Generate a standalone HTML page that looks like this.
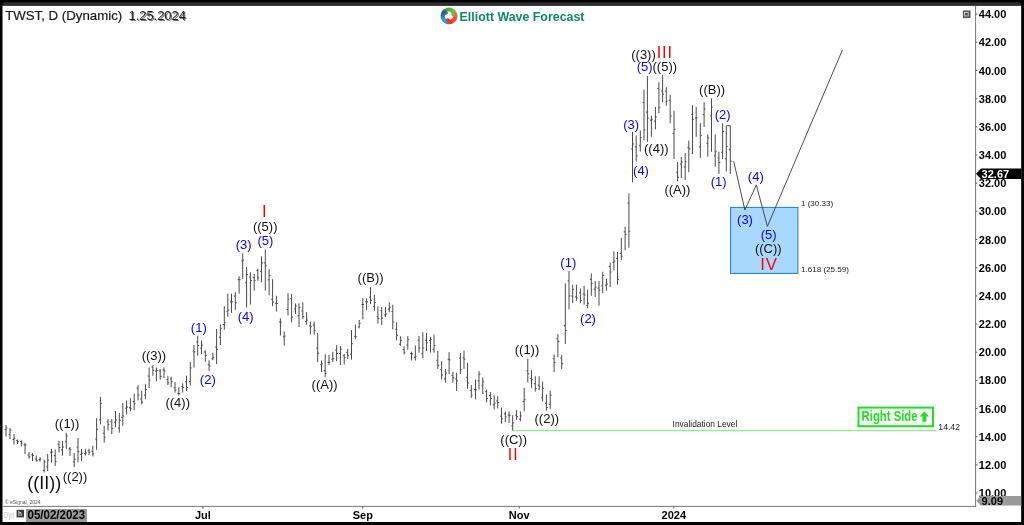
<!DOCTYPE html>
<html><head><meta charset="utf-8"><title>TWST Elliott Wave Forecast</title>
<style>
html,body{margin:0;padding:0;background:#fff;}
body{width:1024px;height:525px;overflow:hidden;}
svg{display:block;font-family:"Liberation Sans",Arial,sans-serif;}
.ax{font-weight:bold;font-size:11px;fill:#000;}
.k{font-size:13px;fill:#111;text-anchor:middle;}
.b{font-size:13px;fill:#0000ff;text-anchor:middle;}
.r{fill:#ff0000;text-anchor:middle;letter-spacing:0.9px;}
.s{font-size:8.1px;fill:#222;}
</style></head><body>
<svg width="1024" height="525" viewBox="0 0 1024 525">
<defs>
<linearGradient id="gG" gradientUnits="userSpaceOnUse" x1="-8" y1="-3" x2="6" y2="-1"><stop offset="0" stop-color="#2f9e48"/><stop offset="1" stop-color="#7ac143"/></linearGradient>
<linearGradient id="gR" gradientUnits="userSpaceOnUse" x1="-8" y1="-3" x2="6" y2="-1"><stop offset="0" stop-color="#f47a3a"/><stop offset="1" stop-color="#ee2a22"/></linearGradient>
<linearGradient id="gB" gradientUnits="userSpaceOnUse" x1="-8" y1="-3" x2="6" y2="-1"><stop offset="0" stop-color="#2b78c0"/><stop offset="0.45" stop-color="#2da5de"/><stop offset="1" stop-color="#27599f"/></linearGradient>
<filter id="bl" x="-10%" y="-30%" width="120%" height="160%"><feGaussianBlur stdDeviation="0.6"/></filter>
</defs>
<rect x="0" y="0" width="1024" height="525" fill="#000"/>
<rect x="2.3" y="2.3" width="1019.2" height="12" rx="2.6" ry="2.6" fill="#2d2d2d"/>
<rect x="2.3" y="5.9" width="1019.1" height="516.1" fill="#fff"/>
<rect x="0" y="5.9" width="2.3" height="520" fill="#000"/>
<rect x="1021.4" y="5.9" width="2.6" height="520" fill="#000"/>

<line x1="975.6" y1="5.9" x2="975.6" y2="506.9" stroke="#777" stroke-width="1"/>
<line x1="2.3" y1="506.4" x2="976.1" y2="506.4" stroke="#777" stroke-width="1"/>
<line x1="975.6" y1="493.0" x2="977.3" y2="493.0" stroke="#555" stroke-width="1"/>
<text class="ax" x="978.8" y="497.0">10.00</text>
<line x1="975.6" y1="464.9" x2="977.3" y2="464.9" stroke="#555" stroke-width="1"/>
<text class="ax" x="978.8" y="468.9">12.00</text>
<line x1="975.6" y1="436.7" x2="977.3" y2="436.7" stroke="#555" stroke-width="1"/>
<text class="ax" x="978.8" y="440.7">14.00</text>
<line x1="975.6" y1="408.5" x2="977.3" y2="408.5" stroke="#555" stroke-width="1"/>
<text class="ax" x="978.8" y="412.5">16.00</text>
<line x1="975.6" y1="380.4" x2="977.3" y2="380.4" stroke="#555" stroke-width="1"/>
<text class="ax" x="978.8" y="384.4">18.00</text>
<line x1="975.6" y1="352.2" x2="977.3" y2="352.2" stroke="#555" stroke-width="1"/>
<text class="ax" x="978.8" y="356.2">20.00</text>
<line x1="975.6" y1="324.0" x2="977.3" y2="324.0" stroke="#555" stroke-width="1"/>
<text class="ax" x="978.8" y="328.0">22.00</text>
<line x1="975.6" y1="295.9" x2="977.3" y2="295.9" stroke="#555" stroke-width="1"/>
<text class="ax" x="978.8" y="299.9">24.00</text>
<line x1="975.6" y1="267.7" x2="977.3" y2="267.7" stroke="#555" stroke-width="1"/>
<text class="ax" x="978.8" y="271.7">26.00</text>
<line x1="975.6" y1="239.5" x2="977.3" y2="239.5" stroke="#555" stroke-width="1"/>
<text class="ax" x="978.8" y="243.5">28.00</text>
<line x1="975.6" y1="211.3" x2="977.3" y2="211.3" stroke="#555" stroke-width="1"/>
<text class="ax" x="978.8" y="215.3">30.00</text>
<line x1="975.6" y1="183.2" x2="977.3" y2="183.2" stroke="#555" stroke-width="1"/>
<text class="ax" x="978.8" y="187.2">32.00</text>
<line x1="975.6" y1="155.0" x2="977.3" y2="155.0" stroke="#555" stroke-width="1"/>
<text class="ax" x="978.8" y="159.0">34.00</text>
<line x1="975.6" y1="126.8" x2="977.3" y2="126.8" stroke="#555" stroke-width="1"/>
<text class="ax" x="978.8" y="130.8">36.00</text>
<line x1="975.6" y1="98.7" x2="977.3" y2="98.7" stroke="#555" stroke-width="1"/>
<text class="ax" x="978.8" y="102.7">38.00</text>
<line x1="975.6" y1="70.5" x2="977.3" y2="70.5" stroke="#555" stroke-width="1"/>
<text class="ax" x="978.8" y="74.5">40.00</text>
<line x1="975.6" y1="42.3" x2="977.3" y2="42.3" stroke="#555" stroke-width="1"/>
<text class="ax" x="978.8" y="46.3">42.00</text>
<line x1="975.6" y1="14.2" x2="977.3" y2="14.2" stroke="#555" stroke-width="1"/>
<text class="ax" x="978.8" y="18.1">44.00</text>
<line x1="202.9" y1="506.4" x2="202.9" y2="508.5" stroke="#555" stroke-width="1"/>
<text class="ax" x="202.9" y="519" text-anchor="middle">Jul</text>
<line x1="362.8" y1="506.4" x2="362.8" y2="508.5" stroke="#555" stroke-width="1"/>
<text class="ax" x="362.8" y="519" text-anchor="middle">Sep</text>
<line x1="519.2" y1="506.4" x2="519.2" y2="508.5" stroke="#555" stroke-width="1"/>
<text class="ax" x="519.2" y="519" text-anchor="middle">Nov</text>
<line x1="673.8" y1="506.4" x2="673.8" y2="508.5" stroke="#555" stroke-width="1"/>
<text class="ax" x="673.8" y="519" text-anchor="middle">2024</text>
<path d="M976 173.7 L981 168.5 H1021.2 V178.9 H981 Z" fill="#000"/>
<text class="ax" x="981.6" y="177.7" style="fill:#fff">32.67</text>
<path d="M976.4 500.8 L980.6 495.9 H1021.2 V505.6 H980.6 Z" fill="#999"/>
<text class="ax" x="981.6" y="504.6">9.09</text>
<text x="5" y="503.6" font-size="5.4" fill="#555" textLength="35.5" lengthAdjust="spacingAndGlyphs">© eSignal, 2024</text>
<text x="4" y="518" font-size="8.5" fill="#c4c4c4" textLength="10.5" lengthAdjust="spacingAndGlyphs">Dyn</text>
<rect x="16.6" y="509.8" width="7.4" height="7.6" fill="#3a3a3a"/>
<text x="18" y="516.4" font-size="6.5" font-weight="bold" fill="#ddd">h</text>
<rect x="26" y="509" width="61" height="13" fill="#9a9a9a"/>
<text x="27.6" y="519.4" font-weight="bold" font-size="12" fill="#000" textLength="57.5" lengthAdjust="spacingAndGlyphs">05/02/2023</text>
<rect x="962.9" y="10.5" width="7.6" height="7.6" fill="#555"/>
<rect x="964.6" y="12.4" width="3.6" height="3.6" fill="none" stroke="#ddd" stroke-width="0.8"/>
<text x="5.2" y="19.9" font-size="13" fill="#1a1a1a" stroke="#1a1a1a" stroke-width="0.2" textLength="117" lengthAdjust="spacingAndGlyphs">TWST, D (Dynamic)</text>
<text x="129.8" y="20.8" font-size="12.3" fill="#777" filter="url(#bl)" textLength="57.2" lengthAdjust="spacingAndGlyphs">1.25.2024</text>
<text x="128.6" y="19.8" font-size="12.3" fill="#222" textLength="57.2" lengthAdjust="spacingAndGlyphs">1.25.2024</text>
<g transform="translate(449 15.9)">
<path d="M-7.7 -3.3 A8.3 8.3 0 0 1 5.9 -5.9 C7.9 -3.8 7.7 -0.2 5.3 0.7 C3.7 1.2 2.3 0.3 2.5 -1.4 C2.9 -3.0 1.8 -4.2 0 -4.3 C-2.8 -4.4 -5.6 -3.9 -7.7 -3.3 Z" fill="url(#gG)"/>
<path d="M-7.7 -3.3 A8.3 8.3 0 0 1 5.9 -5.9 C7.9 -3.8 7.7 -0.2 5.3 0.7 C3.7 1.2 2.3 0.3 2.5 -1.4 C2.9 -3.0 1.8 -4.2 0 -4.3 C-2.8 -4.4 -5.6 -3.9 -7.7 -3.3 Z" fill="url(#gR)" transform="rotate(120)"/>
<path d="M-7.7 -3.3 A8.3 8.3 0 0 1 5.9 -5.9 C7.9 -3.8 7.7 -0.2 5.3 0.7 C3.7 1.2 2.3 0.3 2.5 -1.4 C2.9 -3.0 1.8 -4.2 0 -4.3 C-2.8 -4.4 -5.6 -3.9 -7.7 -3.3 Z" fill="url(#gB)" transform="rotate(240)"/>
</g>
<text x="459.6" y="20.8" font-size="12.4" font-weight="bold" fill="#0e8a5f">Elliott Wave Forecast</text>
<rect x="730.6" y="207.4" width="67.3" height="66" fill="#a8d8fc" stroke="#1f7ad2" stroke-width="1"/>
<text class="s" x="800.9" y="206.3">1 (30.33)</text>
<text class="s" x="800.9" y="272.4">1.618 (25.59)</text>
<line x1="512.7" y1="430.6" x2="936.7" y2="430.6" stroke="#93ea93" stroke-width="1.1"/>
<text class="s" x="672.6" y="427" style="font-size:8.4px">Invalidation Level</text>
<text class="s" x="938.3" y="429.8" style="font-size:8.7px">14.42</text>
<rect x="858.5" y="407.6" width="74.5" height="18.6" fill="#fff" stroke="#1fe01f" stroke-width="2"/>
<text x="861.6" y="421" font-size="14.6" font-weight="bold" fill="#1fe01f" textLength="56" lengthAdjust="spacingAndGlyphs">Right Side</text>
<path d="M924.4 411.4 L929.2 416.6 H926.4 V421.7 H922.4 V416.6 H919.6 Z" fill="#1fe01f"/>
<path d="M6.0 425.0V436.6M4.6 429.4H6.0M6.0 428.0H7.4M10.0 428.0V439.0M8.6 434.7H10.0M10.0 430.2H11.4M14.0 434.0V444.5M12.6 439.5H14.0M14.0 438.3H15.4M17.5 439.6V444.0M16.1 440.4H17.5M17.5 441.8H18.9M21.3 440.4V446.5M19.9 441.5H21.3M21.3 443.2H22.7M25.0 442.7V454.0M23.6 444.9H25.0M25.0 445.1H26.4M29.0 452.0V458.7M27.6 455.0H29.0M29.0 456.9H30.4M32.5 453.0V461.0M31.1 454.9H32.5M32.5 455.5H33.9M36.3 455.6V461.7M34.9 459.2H36.3M36.3 460.6H37.7M40.0 457.0V461.7M38.6 459.6H40.0M40.0 459.0H41.4M44.2 459.5V472.4M42.8 470.3H44.2M44.2 461.9H45.6M47.7 454.0V471.0M46.3 466.8H47.7M47.7 460.0H49.1M51.5 448.8V462.5M50.1 452.2H51.5M51.5 452.0H52.9M55.2 449.5V466.0M53.8 455.5H55.2M55.2 461.4H56.6M59.0 441.0V452.6M57.6 444.2H59.0M59.0 447.5H60.4M62.5 441.0V455.6M61.1 449.7H62.5M62.5 447.0H63.9M66.3 432.8V448.8M64.9 441.3H66.3M66.3 435.9H67.7M70.0 447.0V456.0M68.6 448.7H70.0M70.0 449.6H71.4M74.2 453.0V467.0M72.8 461.8H74.2M74.2 459.3H75.6M78.0 438.0V462.5M76.6 447.1H78.0M78.0 451.7H79.4M81.5 448.8V461.0M80.1 454.5H81.5M81.5 453.2H82.9M85.4 448.8V455.6M84.0 453.6H85.4M85.4 453.1H86.8M89.0 448.8V455.0M87.6 450.8H89.0M89.0 452.2H90.4M92.8 445.7V456.4M91.4 451.2H92.8M92.8 453.9H94.2M96.6 418.2V449.8M95.2 439.1H96.6M96.6 429.3H98.0M100.4 397.0V424.3M99.0 419.8H100.4M100.4 403.4H101.8M104.2 425.8V442.6M102.8 433.2H104.2M104.2 437.2H105.6M108.0 419.0V430.4M106.6 421.9H108.0M108.0 424.6H109.4M111.8 419.0V434.2M110.4 421.7H111.8M111.8 428.4H113.2M115.5 411.0V427.3M114.1 422.2H115.5M115.5 420.0H116.9M119.3 413.0V432.7M117.9 428.0H119.3M119.3 420.3H120.7M122.8 403.0V425.8M121.4 417.5H122.8M122.8 415.9H124.2M126.6 400.5V414.5M125.2 408.3H126.6M126.6 407.1H128.0M130.4 398.2V411.2M129.0 407.8H130.4M130.4 408.7H131.8M134.2 393.6V410.3M132.8 401.6H134.2M134.2 403.9H135.6M138.0 385.0V400.5M136.6 388.0H138.0M138.0 394.9H139.4M141.7 391.0V404.2M140.3 399.0H141.7M141.7 402.2H143.1M145.4 384.2V399.3M144.0 395.2H145.4M145.4 389.5H146.8M149.1 367.4V388.0M147.7 376.1H149.1M149.1 380.1H150.5M152.9 365.2V375.8M151.5 367.0H152.9M152.9 370.2H154.3M156.4 367.4V381.2M155.0 371.1H156.4M156.4 370.6H157.8M160.2 369.0V379.6M158.8 371.0H160.2M160.2 376.3H161.6M164.0 367.4V378.0M162.6 369.9H164.0M164.0 370.8H165.4M167.9 375.8V385.0M166.5 379.7H167.9M167.9 382.8H169.3M171.2 376.6V387.3M169.8 378.8H171.2M171.2 381.6H172.6M175.0 382.0V392.6M173.6 387.7H175.0M175.0 390.1H176.4M178.8 387.3V395.6M177.4 393.3H178.8M178.8 393.6H180.2M182.7 383.4V392.6M181.3 386.6H182.7M182.7 387.5H184.1M186.5 375.7V391.0M185.1 381.8H186.5M186.5 387.5H187.9M190.3 361.8V385.7M188.9 381.4H190.3M190.3 367.9H191.7M194.0 344.8V367.6M192.6 351.0H194.0M194.0 351.9H195.4M197.7 335.8V355.6M196.3 342.0H197.7M197.7 345.5H199.1M201.5 340.4V354.1M200.1 348.1H201.5M201.5 345.0H202.9M205.3 350.3V361.7M203.9 352.0H205.3M205.3 355.4H206.7M209.1 360.2V370.9M207.7 364.6H209.1M209.1 366.0H210.5M212.9 352.6V360.2M211.5 358.8H212.9M212.9 357.4H214.3M216.6 329.0V364.0M215.2 346.9H216.6M216.6 349.4H218.0M220.4 324.4V345.0M219.0 337.2H220.4M220.4 328.3H221.8M224.3 306.3V329.7M222.9 324.5H224.3M224.3 322.6H225.7M227.8 293.7V316.8M226.4 311.3H227.8M227.8 310.1H229.2M231.5 293.7V312.8M230.1 301.8H231.5M231.5 301.9H232.9M235.3 292.2V309.8M233.9 296.1H235.3M235.3 302.7H236.7M239.1 276.2V293.7M237.7 279.6H239.1M239.1 279.7H240.5M242.7 253.3V279.2M241.3 261.0H242.7M242.7 260.1H244.1M246.6 267.0V307.5M245.2 282.7H246.6M246.6 274.6H248.0M250.4 272.3V304.5M249.0 277.1H250.4M250.4 280.5H251.8M254.2 273.9V290.6M252.8 277.6H254.2M254.2 280.7H255.6M257.8 268.5V280.7M256.4 270.5H257.8M257.8 277.8H259.2M261.5 256.3V282.3M260.1 271.4H261.5M261.5 262.9H262.9M265.3 249.5V290.6M263.9 262.9H265.3M265.3 265.7H266.7M269.1 269.3V295.2M267.7 279.8H269.1M269.1 275.4H270.5M272.6 279.2V306.2M271.2 299.3H272.6M272.6 302.0H274.0M276.4 295.8V311.5M275.0 303.3H276.4M276.4 303.5H277.8M280.4 318.4V335.5M279.0 322.0H280.4M280.4 322.2H281.8M284.2 331.4V345.5M282.8 336.9H284.2M284.2 336.1H285.6M288.0 293.2V315.5M286.6 309.5H288.0M288.0 299.1H289.4M291.6 293.9V322.3M290.2 298.6H291.6M291.6 317.1H293.0M295.5 303.4V314.0M294.1 308.9H295.5M295.5 306.1H296.9M299.0 303.4V327.0M297.6 315.9H299.0M299.0 307.4H300.4M302.8 302.3V319.3M301.4 311.1H302.8M302.8 316.5H304.2M306.6 312.2V324.6M305.2 321.6H306.6M306.6 320.1H308.0M310.4 321.6V334.5M309.0 325.9H310.4M310.4 326.8H311.8M314.2 321.6V334.5M312.8 325.0H314.2M314.2 330.5H315.6M317.7 333.0V362.0M316.3 348.2H317.7M317.7 353.2H319.1M321.5 360.4V371.8M320.1 364.7H321.5M321.5 363.9H322.9M325.2 354.3V377.2M323.8 370.7H325.2M325.2 373.5H326.6M329.0 355.0V365.0M327.6 362.5H329.0M329.0 362.1H330.4M332.8 352.0V362.0M331.4 359.2H332.8M332.8 358.7H334.2M336.6 345.2V361.2M335.2 350.1H336.6M336.6 353.4H338.0M340.4 346.0V365.0M339.0 353.6H340.4M340.4 349.2H341.8M344.2 354.0V364.6M342.8 355.8H344.2M344.2 357.7H345.6M347.7 349.0V359.0M346.3 352.3H347.7M347.7 355.3H349.1M351.5 330.0V359.6M350.1 354.3H351.5M351.5 343.7H352.9M355.4 324.6V339.1M354.0 336.3H355.4M355.4 336.8H356.8M359.2 320.0V328.4M357.8 326.9H359.2M359.2 323.4H360.6M362.8 298.0V319.3M361.4 304.5H362.8M362.8 304.6H364.2M366.6 298.3V310.1M365.2 301.7H366.6M366.6 301.8H368.0M370.5 287.2V304.0M369.1 297.1H370.5M370.5 300.3H371.9M374.4 294.8V310.8M373.0 306.6H374.4M374.4 302.6H375.8M377.9 306.3V323.6M376.5 316.8H377.9M377.9 318.6H379.3M381.7 307.0V325.0M380.3 310.8H381.7M381.7 318.0H383.1M385.5 307.0V317.0M384.1 314.9H385.5M385.5 314.0H386.9M389.3 302.4V312.3M387.9 309.1H389.3M389.3 307.2H390.7M392.8 304.7V329.5M391.4 311.5H392.8M392.8 322.1H394.2M396.6 322.3V340.5M395.2 329.3H396.6M396.6 335.2H398.0M400.4 336.3V345.8M399.0 344.2H400.4M400.4 340.4H401.8M404.1 346.0V354.4M402.7 349.6H404.1M404.1 352.8H405.5M407.8 336.0V349.7M406.4 345.0H407.8M407.8 339.7H409.2M411.5 351.6V360.5M410.1 353.7H411.5M411.5 353.9H412.9M415.3 345.5V360.5M413.9 357.3H415.3M415.3 356.2H416.7M419.0 336.0V352.5M417.6 340.2H419.0M419.0 348.0H420.4M422.8 332.2V358.0M421.4 353.8H422.8M422.8 347.9H424.2M426.5 333.0V351.2M425.1 340.2H426.5M426.5 342.7H427.9M430.5 336.8V352.5M429.1 340.6H430.5M430.5 339.3H431.9M434.0 334.5V352.8M432.6 349.7H434.0M434.0 345.6H435.4M437.8 351.0V368.9M436.4 360.3H437.8M437.8 365.4H439.2M441.6 361.3V379.5M440.2 369.6H441.6M441.6 375.1H443.0M445.4 368.9V382.6M444.0 378.9H445.4M445.4 373.0H446.8M449.1 352.1V374.2M447.7 359.3H449.1M449.1 359.9H450.5M452.9 371.9V382.6M451.5 375.3H452.9M452.9 377.9H454.3M456.6 372.7V391.0M455.2 378.8H456.6M456.6 380.8H458.0M460.4 352.9V374.2M459.0 358.0H460.4M460.4 369.7H461.8M464.0 350.6V368.9M462.6 357.9H464.0M464.0 359.2H465.4M467.5 362.8V388.7M466.1 377.3H467.5M467.5 383.1H468.9M471.3 384.9V397.8M469.9 390.6H471.3M471.3 395.1H472.7M475.5 379.5V399.4M474.1 389.5H475.5M475.5 389.9H476.9M479.0 371.2V389.5M477.6 380.7H479.0M479.0 374.2H480.4M482.8 377.3V394.0M481.4 385.0H482.8M482.8 381.9H484.2M486.6 389.7V402.3M485.2 391.6H486.6M486.6 398.6H488.0M490.4 392.0V405.4M489.0 395.6H490.4M490.4 398.5H491.8M494.2 395.4V409.6M492.8 404.7H494.2M494.2 403.1H495.6M497.7 396.2V408.4M496.3 400.8H497.7M497.7 402.5H499.1M501.5 407.6V423.6M500.1 416.2H501.5M501.5 418.8H502.9M505.3 411.4V422.0M503.9 413.8H505.3M505.3 417.1H506.7M509.1 411.4V422.8M507.7 415.1H509.1M509.1 415.3H510.5M512.7 415.2V430.5M511.3 425.8H512.7M512.7 422.9H514.1M516.6 409.9V419.8M515.2 415.3H516.6M516.6 416.7H518.0M520.4 411.4V421.3M519.0 419.2H520.4M520.4 416.0H521.8M524.2 387.8V411.4M522.8 401.5H524.2M524.2 399.7H525.6M527.8 358.8V382.4M526.4 370.8H527.8M527.8 373.8H529.2M531.5 370.2V387.8M530.1 378.4H531.5M531.5 379.4H532.9M535.3 376.3V391.6M533.9 383.7H535.3M535.3 388.7H536.7M539.1 376.3V390.0M537.7 385.1H539.1M539.1 386.8H540.5M542.6 381.7V401.5M541.2 397.7H542.6M542.6 388.3H544.0M546.4 394.6V410.6M545.0 403.3H546.4M546.4 407.6H547.8M550.2 390.8V409.1M548.8 404.3H550.2M550.2 395.3H551.6M554.1 354.5V372.2M552.7 358.7H554.1M554.1 362.6H555.5M557.9 334.2V357.2M556.5 338.8H557.9M557.9 341.5H559.3M561.7 355.2V369.0M560.3 358.0H561.7M561.7 363.7H563.1M565.3 283.4V344.0M563.9 325.7H565.3M565.3 330.5H566.7M569.0 271.0V309.4M567.6 280.9H569.0M569.0 296.0H570.4M572.7 284.7V303.2M571.3 296.0H572.7M572.7 289.3H574.1M576.4 284.7V300.7M575.0 297.0H576.4M576.4 297.9H577.8M580.4 288.4V303.2M579.0 292.9H580.4M580.4 300.5H581.8M584.1 285.9V304.5M582.7 293.9H584.1M584.1 295.0H585.5M587.6 289.6V308.2M586.2 305.3H587.6M587.6 303.2H589.0M591.3 273.5V295.8M589.9 279.4H591.3M591.3 283.6H592.7M595.2 281.0V297.0M593.8 289.2H595.2M595.2 287.2H596.6M599.0 281.0V305.7M597.6 288.1H599.0M599.0 290.2H600.4M602.7 271.8V293.3M601.3 285.9H602.7M602.7 275.3H604.1M606.4 278.6V290.8M605.0 285.2H606.4M606.4 284.2H607.8M610.2 262.5V287.1M608.8 266.5H610.2M610.2 271.9H611.6M613.9 251.3V270.5M612.5 262.6H613.9M613.9 261.1H615.3M617.5 252.0V284.7M616.1 258.4H617.5M617.5 279.5H618.9M621.3 237.9V260.0M619.9 253.4H621.3M621.3 256.2H622.7M625.1 226.7V250.2M623.7 231.9H625.1M625.1 234.6H626.5M628.9 193.3V247.8M627.5 203.0H628.9M628.9 231.2H630.3M632.5 131.8V182.4M631.1 149.0H632.5M632.5 144.0H633.9M636.2 135.5V161.3M634.8 147.0H636.2M636.2 155.8H637.6M640.3 130.5V151.6M638.9 145.8H640.3M640.3 137.5H641.7M644.0 89.7V140.4M642.6 102.6H644.0M644.0 129.9H645.4M647.4 76.1V141.7M646.0 112.1H647.4M647.4 118.1H648.8M651.4 115.7V136.7M650.0 120.2H651.4M651.4 119.7H652.8M655.4 107.0V129.3M654.0 121.1H655.4M655.4 117.0H656.8M658.9 82.3V113.2M657.5 88.5H658.9M658.9 107.2H660.3M662.6 74.9V102.0M661.2 91.0H662.6M662.6 94.2H664.0M666.3 87.2V105.8M664.9 91.1H666.3M666.3 101.1H667.7M670.2 94.7V123.1M668.8 100.3H670.2M670.2 116.1H671.6M674.0 110.7V159.0M672.6 133.3H674.0M674.0 129.4H675.4M677.6 162.0V181.2M676.2 172.3H677.6M677.6 177.3H679.0M681.3 157.0V178.0M679.9 164.1H681.3M681.3 162.0H682.7M685.2 153.2V180.0M683.8 167.1H685.2M685.2 161.7H686.6M688.8 140.5V172.2M687.4 147.7H688.8M688.8 148.8H690.2M692.5 105.2V154.1M691.1 114.3H692.5M692.5 119.4H693.9M696.2 107.1V136.8M694.8 118.0H696.2M696.2 117.9H697.6M700.3 123.3V157.9M698.9 146.9H700.3M700.3 135.5H701.7M704.1 102.2V127.0M702.7 114.6H704.1M704.1 109.0H705.5M707.8 134.4V156.7M706.4 143.2H707.8M707.8 138.0H709.2M711.5 98.5V151.7M710.1 115.8H711.5M711.5 107.1H712.9M715.2 134.4V166.6M713.8 155.8H715.2M715.2 151.7H716.6M718.9 151.7V174.0M717.5 158.0H718.9M718.9 162.5H720.3M722.6 123.3V159.2M721.2 152.2H722.6M722.6 131.4H724.0M726.3 125.7V171.5M724.9 158.8H726.3M726.3 146.4H727.7M730.3 125.7V174.0M728.9 149.7H730.3M730.3 161.2H731.7" stroke="#4a4a4a" stroke-width="1" fill="none"/>
<path d="M726.3 125.7H730.3" stroke="#4a4a4a" stroke-width="1"/>
<polyline points="733.7,161.4 744.9,210 756.3,184.9 767.4,226.4 842.4,50" fill="none" stroke="#3a3a3a" stroke-width="0.9"/>
<text class="k" x="67" y="428.2">((1))</text>
<text class="k" x="75" y="481.0">((2))</text>
<text class="k" x="153.9" y="360.2">((3))</text>
<text class="k" x="177.7" y="407.1">((4))</text>
<text class="k" x="265.2" y="230.6">((5))</text>
<text class="k" x="324.6" y="389.4">((A))</text>
<text class="k" x="370.6" y="282.2">((B))</text>
<text class="k" x="513.7" y="444.0">((C))</text>
<text class="k" x="527" y="354.2">((1))</text>
<text class="k" x="546.8" y="423.4">((2))</text>
<text class="k" x="643.5" y="58.7">((3))</text>
<text class="k" x="664.8" y="71.0">((5))</text>
<text class="k" x="656.3" y="153.3">((4))</text>
<text class="k" x="677.4" y="194.1">((A))</text>
<text class="k" x="712.1" y="93.9">((B))</text>
<text class="k" x="768.3" y="252.8">((C))</text>
<text class="k" x="44.3" y="488.7" style="font-size:18px">((II))</text>
<text class="b" x="198.8" y="332.2">(1)</text>
<text class="b" x="207.8" y="383.6">(2)</text>
<text class="b" x="243.6" y="248.6">(3)</text>
<text class="b" x="245.6" y="320.6">(4)</text>
<text class="b" x="265.4" y="244.6">(5)</text>
<text class="b" x="568.3" y="266.6">(1)</text>
<text class="b" x="588" y="322.6">(2)</text>
<text class="b" x="631.1" y="129.2">(3)</text>
<text class="b" x="641" y="174.6">(4)</text>
<text class="b" x="644.7" y="71.0">(5)</text>
<text class="b" x="718.6" y="185.6">(1)</text>
<text class="b" x="722.6" y="119.1">(2)</text>
<text class="b" x="745" y="223.6">(3)</text>
<text class="b" x="755.8" y="181.4">(4)</text>
<text class="b" x="768.7" y="238.7">(5)</text>
<text class="r" x="264.8" y="217.2" font-size="16.6">I</text>
<text class="r" x="513.2" y="460.3" font-size="16">II</text>
<text class="r" x="664.8" y="58.4" font-size="16.3">III</text>
<text class="r" x="769" y="270.2" font-size="16.8">IV</text>
</svg></body></html>
